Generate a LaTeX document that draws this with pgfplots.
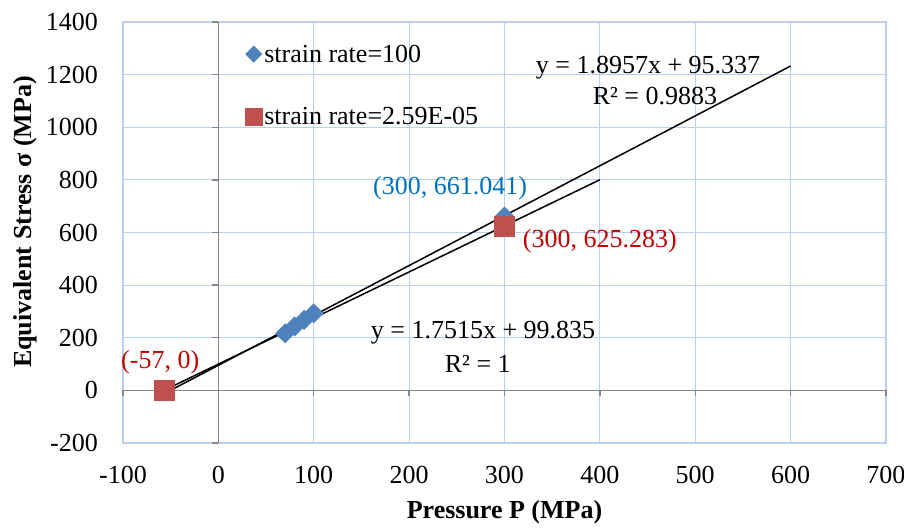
\documentclass[border=0pt]{standalone}
\usepackage{pgfplots}
\pgfplotsset{compat=1.18}
\usepackage{fontspec}
\setmainfont{Liberation Serif}
\definecolor{gridblue}{RGB}{185,208,242}
\definecolor{zerogray}{RGB}{134,134,134}
\definecolor{ptblue}{RGB}{79,129,189}
\definecolor{ptred}{RGB}{192,80,77}
\definecolor{lblblue}{RGB}{0,112,192}
\definecolor{lblred}{RGB}{192,0,0}
\begin{document}
\begin{tikzpicture}
\useasboundingbox (-123pt,-84pt) rectangle (781pt,443pt);
\begin{axis}[
  scale only axis,
  width=763pt, height=421pt,
  xmin=-100, xmax=700, ymin=-200, ymax=1400,
  xtick={-100,0,...,700}, ytick={-200,0,...,1400},
  xticklabels={-100,0,100,200,300,400,500,600,700},
  yticklabels={-200,0,200,400,600,800,1000,1200,1400},
  grid=major,
  major grid style={draw=gridblue, line width=1.1pt},
  axis line style={draw=gridblue, line width=1.1pt},
  major tick length=0pt,
  tick label style={font=\fontsize{26}{30}\selectfont},
  yticklabel style={anchor=east, inner sep=0pt, xshift=-25pt},
  xticklabel style={anchor=center, inner sep=0pt, yshift=-32pt},
  xlabel={\textbf{Pressure P (MPa)}},
  ylabel={\textbf{Equivalent Stress σ (MPa)}},
  label style={font=\fontsize{26}{30}\selectfont},
  xlabel style={at={(axis description cs:0.5,-0.164)}, anchor=center},
  ylabel style={at={(axis description cs:-0.1284,0.525)}, anchor=center},
  legend style={at={(axis cs:28,1322)}, anchor=north west, draw=none, fill=none,
    font=\fontsize{26}{30}\selectfont, row sep=40pt, inner sep=0pt},
  legend cell align=left,
  legend image code/.code={\draw[#1,mark repeat=2,mark phase=2,every mark/.append style={scale=0.85}] plot coordinates {(0pt,0pt)(6pt,0pt)(12pt,0pt)};},
  clip=false,
]
% zero lines
\addplot[forget plot, zerogray, line width=1.3pt] coordinates {(-100,0) (700,0)};
\addplot[forget plot, zerogray, line width=1.3pt] coordinates {(0,-200) (0,1400)};
\pgfplotsinvokeforeach{-100,0,100,200,300,400,500,600,700}{\draw[zerogray, line width=1.3pt] (axis cs:#1,0) -- ++(0pt,-6pt);}
\pgfplotsinvokeforeach{-200,0,200,400,600,800,1000,1200,1400}{\draw[zerogray, line width=1.3pt] (axis cs:0,#1) -- ++(-6pt,0pt);}
% data
\addplot[only marks, mark=square*, mark size=6.8pt, mark options={rotate=45, fill=ptblue, draw=ptblue}]
  coordinates {(70,217) (80,243) (90,268) (100,293) (300,661.041)};
\addlegendentry{strain rate=100}
\addplot[only marks, mark=square*, mark size=10pt, mark options={fill=ptred, draw=ptred}]
  coordinates {(-57,0) (300,625.283)};
\addlegendentry{strain rate=2.59E-05}
% trendlines
\addplot[forget plot, black, line width=1.5pt] coordinates {(-55,-8.93) (600,1232.76)};
\addplot[forget plot, black, line width=1.5pt] coordinates {(-57,0.0) (400,800.44)};
% labels
\node[font=\fontsize{26}{30}\selectfont] at (axis cs:450.5,1225) {y = 1.8957x + 95.337};
\node[font=\fontsize{26}{30}\selectfont] at (axis cs:457.8,1119) {R² = 0.9883};
\node[font=\fontsize{26}{30}\selectfont] at (axis cs:277.5,218) {y = 1.7515x + 99.835};
\node[font=\fontsize{26}{30}\selectfont] at (axis cs:272,100) {R² = 1};
\node[font=\fontsize{26}{30}\selectfont, text=lblblue] at (axis cs:243,769) {(300, 661.041)};
\node[font=\fontsize{26}{30}\selectfont, text=lblred] at (axis cs:400,568) {(300, 625.283)};
\node[font=\fontsize{26}{30}\selectfont, text=lblred] at (axis cs:-61,108) {(-57, 0)};
\end{axis}
\end{tikzpicture}
\end{document}
